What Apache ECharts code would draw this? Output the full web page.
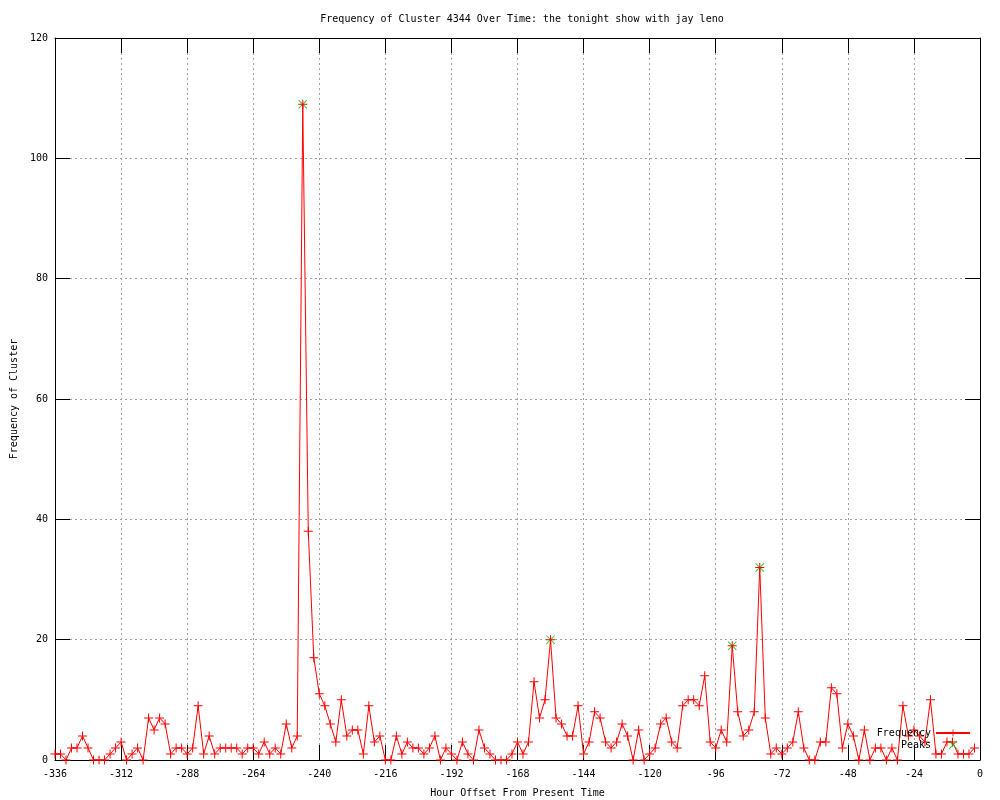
<!DOCTYPE html>
<html>
<head>
<meta charset="utf-8">
<script src="https://cdn.jsdelivr.net/npm/echarts@6/dist/echarts.min.js"></script>
<style>
html,body{margin:0;padding:0;background:#fff;width:1000px;height:800px;overflow:hidden;}
#chart{width:1000px;height:800px;display:block;}
</style>
</head>
<body>
<div id="chart"></div>
<script>
// Data: frequency every 2 hours, starting at -336
const START_HOUR = -336;
const STEP_HOURS = 2;
const frequency = [
  1, 1, 0, 2, 2, 4, 2, 0, 0, 0,
  1, 2, 3, 0, 1, 2, 0, 7, 5, 7,
  6, 1, 2, 2, 1, 2, 9, 1, 4, 1,
  2, 2, 2, 2, 1, 2, 2, 1, 3, 1,
  2, 1, 6, 2, 4, 109, 38, 17, 11, 9,
  6, 3, 10, 4, 5, 5, 1, 9, 3, 4,
  0, 0, 4, 1, 3, 2, 2, 1, 2, 4,
  0, 2, 1, 0, 3, 1, 0, 5, 2, 1,
  0, 0, 0, 1, 3, 1, 3, 13, 7, 10,
  20, 7, 6, 4, 4, 9, 1, 3, 8, 7,
  3, 2, 3, 6, 4, 0, 5, 0, 1, 2,
  6, 7, 3, 2, 9, 10, 10, 9, 14, 3,
  2, 5, 3, 19, 8, 4, 5, 8, 32, 7,
  1, 2, 1, 2, 3, 8, 2, 0, 0, 3,
  3, 12, 11, 2, 6, 4, 0, 5, 0, 2,
  2, 0, 2, 0, 9, 4, 5, 4, 3, 10,
  1, 1, 3, 3, 1, 1, 1, 2
];
const hours = frequency.map((_, i) => START_HOUR + i * STEP_HOURS);
const peakHours = [-246, -156, -90, -80];
const peakValues = [109, 20, 19, 32];
const xTicks = [-336, -312, -288, -264, -240, -216, -192, -168, -144, -120, -96, -72, -48, -24, 0];
const yTicks = [0, 20, 40, 60, 80, 100, 120];

const FONT = 'DejaVu Sans Mono';
const PLUS = 'path://M4,0H5V9H4Z M0,4H9V5H0Z';
const XMARK = 'path://M0,0.7L0.7,0L9,8.3L8.3,9Z M9,0.7L8.3,0L0,8.3L0.7,9Z';

const chart = echarts.init(document.getElementById('chart'), null, {renderer: 'canvas', width: 1000, height: 800});
const tickLen = 15;
const baseX = {
  type: 'value', min: xTicks[0], max: xTicks[xTicks.length - 1], interval: 24,
  axisLine: {show: true, onZero: false, lineStyle: {color: '#000', width: 1}},
  axisTick: {show: true, inside: true, length: tickLen, lineStyle: {color: '#000'}},
};
const baseY = {
  type: 'value', min: yTicks[0], max: yTicks[yTicks.length - 1], interval: 20,
  axisLine: {show: true, onZero: false, lineStyle: {color: '#000', width: 1}},
  axisTick: {show: true, inside: true, length: tickLen, lineStyle: {color: '#000'}},
};
chart.setOption({
  animation: false,
  backgroundColor: '#fff',
  title: {
    text: 'Frequency of Cluster 4344 Over Time: the tonight show with jay leno',
    left: 517, top: 9, textAlign: 'center',
    textStyle: {fontFamily: FONT, fontSize: 10, fontWeight: 'normal', color: '#000'}
  },
  grid: {left: 55, right: 20, top: 38, bottom: 40, containLabel: false, outerBoundsMode: 'none'},
  legend: {
    data: ['Frequency', 'Peaks'],
    orient: 'vertical', right: 24, top: 723, align: 'right',
    itemWidth: 34, itemHeight: 9, itemGap: 2,
    textStyle: {fontFamily: FONT, fontSize: 10, color: '#000'},
    selectedMode: false
  },
  xAxis: [
    Object.assign({}, baseX, {
      position: 'bottom',
      name: 'Hour Offset From Present Time', nameLocation: 'middle', nameGap: 28,
      nameTextStyle: {fontFamily: FONT, fontSize: 10, color: '#000'},
      axisLabel: {show: true, margin: 9, fontFamily: FONT, fontSize: 10, color: '#000'},
      splitLine: {show: true, lineStyle: {color: '#a0a0a0', type: [2, 3], width: 1}}
    }),
    Object.assign({}, baseX, {
      position: 'top', axisLabel: {show: false}, splitLine: {show: false}
    })
  ],
  yAxis: [
    Object.assign({}, baseY, {
      position: 'left',
      name: 'Frequency of Cluster', nameLocation: 'middle', nameGap: 36, nameRotate: 90,
      nameTextStyle: {fontFamily: FONT, fontSize: 10, color: '#000'},
      axisLabel: {show: true, margin: 7, fontFamily: FONT, fontSize: 10, color: '#000'},
      splitLine: {show: true, lineStyle: {color: '#a0a0a0', type: [2, 3], width: 1}}
    }),
    Object.assign({}, baseY, {
      position: 'right', axisLabel: {show: false}, splitLine: {show: false}
    })
  ],
  series: [
    {
      name: 'Frequency', type: 'line', z: 3,
      data: hours.map((h, i) => [h, frequency[i]]),
      symbol: PLUS, symbolSize: 9, showAllSymbol: true,
      lineStyle: {color: '#ff0000', width: 1},
      itemStyle: {color: '#ff0000'},
      emphasis: {disabled: true}
    },
    {
      name: 'Peaks', type: 'scatter', z: 2,
      data: peakHours.map((h, i) => [h, peakValues[i]]),
      symbol: XMARK, symbolSize: 9, symbolKeepAspect: true,
      itemStyle: {color: '#00c000'},
      emphasis: {disabled: true}
    }
  ]
});
</script>
</body>
</html>
